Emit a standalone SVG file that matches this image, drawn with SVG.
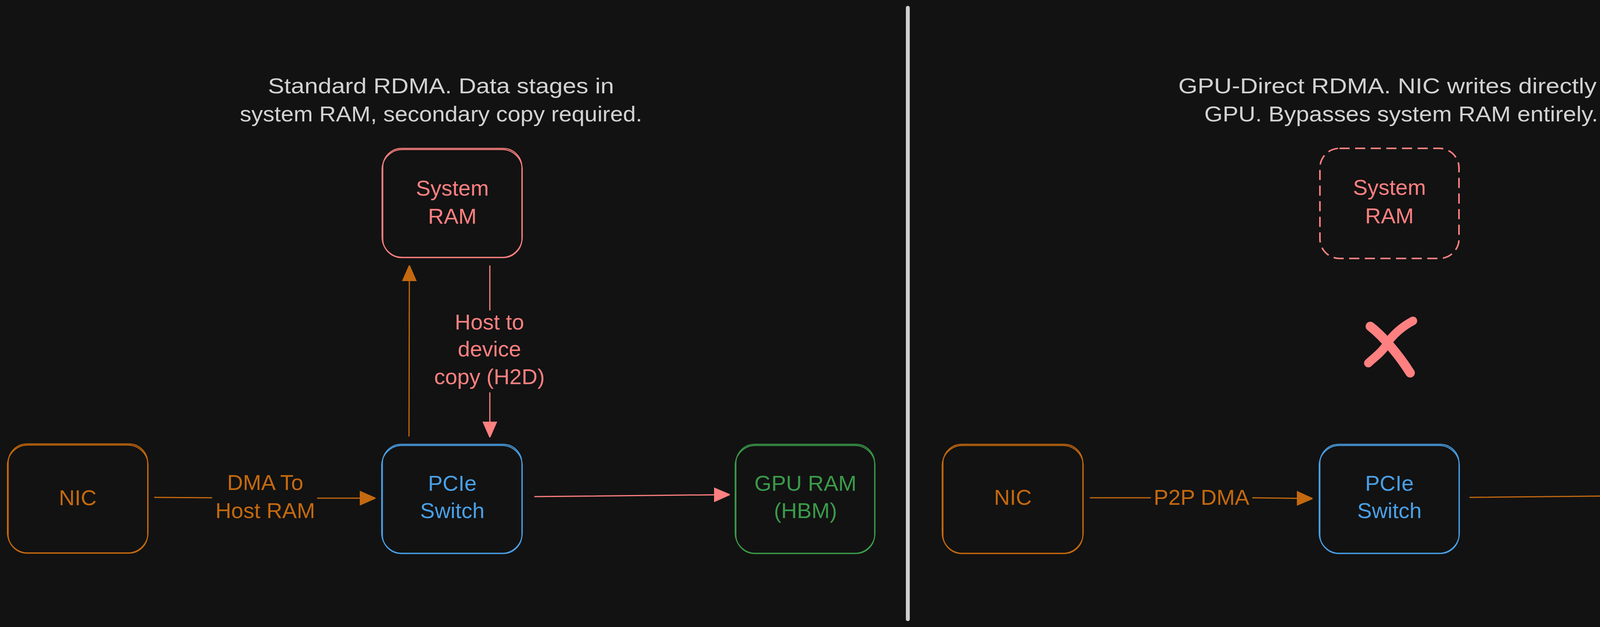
<svg xmlns="http://www.w3.org/2000/svg" width="4654" height="1606" viewBox="0 0 4654 1606">
<style>
  text { font-family: "Liberation Sans", "DejaVu Sans", sans-serif; font-size: 56px; text-anchor: middle; }
  .title { fill: #d2d2d2; }
  .t-red { fill: #ff8080; }
  .t-orange { fill: #c4690f; }
  .t-blue { fill: #4a9fe5; }
  .t-green { fill: #3a9a4a; }
  .box { fill: none; stroke-width: 2.5; }
  .b-red { stroke: #ff8080; }
  .b-orange { stroke: #c4690f; }
  .b-blue { stroke: #4a9fe5; }
  .b-green { stroke: #3a9a4a; }
  .dashed { fill: none; stroke: #ff8080; stroke-width: 4; stroke-dasharray: 26 14; }
  .edge { fill: none; stroke-width: 3; stroke-linecap: round; }
  .e-orange { stroke: #c4690f; }
  .e-red { stroke: #ff8080; }
</style>
<defs>
  <marker id="ah-orange" markerUnits="userSpaceOnUse" markerWidth="40" markerHeight="40" viewBox="0 0 32 28" refX="31" refY="14" orient="auto">
    <path d="M0,0 L32,14 L0,28 Z" fill="#c4690f" stroke="#c4690f" stroke-width="2" stroke-linejoin="round"/>
  </marker>
  <marker id="ah-red" markerUnits="userSpaceOnUse" markerWidth="40" markerHeight="40" viewBox="0 0 32 28" refX="31" refY="14" orient="auto">
    <path d="M0,0 L32,14 L0,28 Z" fill="#ff8080" stroke="#ff8080" stroke-width="2" stroke-linejoin="round"/>
  </marker>
</defs>
<rect x="0" y="0" width="4654" height="1606" fill="#121212"/>

<g id="divider">
  <line x1="2324" y1="20" x2="2324" y2="1586" stroke="#cfcfcf" stroke-width="10" stroke-linecap="round"/>
</g>

<g id="title-left">
  <text class="title" x="1129" y="239" textLength="886" lengthAdjust="spacingAndGlyphs">Standard RDMA. Data stages in</text>
  <text class="title" x="1129" y="311" textLength="1030" lengthAdjust="spacingAndGlyphs">system RAM, secondary copy required.</text>
</g>
<g id="title-right">
  <text class="title" x="3587" y="239" textLength="1141" lengthAdjust="spacingAndGlyphs">GPU-Direct RDMA. NIC writes directly to</text>
  <text class="title" x="3587" y="311" textLength="1008" lengthAdjust="spacingAndGlyphs">GPU. Bypasses system RAM entirely.</text>
</g>

<!-- Left panel nodes -->
<g id="sysram-left">
  <rect class="box b-red" x="980" y="380" width="356" height="280" rx="48"/>
  <rect class="box b-red" x="978" y="383" width="359" height="276" rx="52"/>
  <text class="t-red" x="1158" y="501">System</text>
  <text class="t-red" x="1158" y="573">RAM</text>
</g>
<g id="nic-left">
  <rect class="box b-orange" x="21" y="1137" width="357" height="280" rx="48"/>
  <rect class="box b-orange" x="19" y="1140" width="360" height="276" rx="52"/>
  <text class="t-orange" x="199" y="1294">NIC</text>
</g>
<g id="pcie-left">
  <rect class="box b-blue" x="979" y="1138" width="357" height="280" rx="48"/>
  <rect class="box b-blue" x="977" y="1141" width="360" height="276" rx="52"/>
  <text class="t-blue" x="1158" y="1257">PCIe</text>
  <text class="t-blue" x="1158" y="1327">Switch</text>
</g>
<g id="gpu-left">
  <rect class="box b-green" x="1884" y="1138" width="355" height="280" rx="48"/>
  <rect class="box b-green" x="1882" y="1141" width="358" height="276" rx="52"/>
  <text class="t-green" x="2062" y="1257">GPU RAM</text>
  <text class="t-green" x="2062" y="1327">(HBM)</text>
</g>

<!-- Right panel nodes -->
<g id="sysram-right">
  <rect class="dashed" x="3379" y="380" width="356" height="282" rx="50"/>
  <text class="t-red" x="3557" y="499">System</text>
  <text class="t-red" x="3557" y="572">RAM</text>
</g>
<g id="cross-mark">
  <path d="M3508,836 C3545,865 3585,915 3610,955" fill="none" stroke="#ff8080" stroke-width="24" stroke-linecap="round"/>
  <path d="M3617,822 C3590,836 3562,860 3548,885 C3535,905 3515,918 3503,930" fill="none" stroke="#ff8080" stroke-width="22" stroke-linecap="round"/>
</g>
<g id="nic-right">
  <rect class="box b-orange" x="2414" y="1138" width="358" height="280" rx="48"/>
  <rect class="box b-orange" x="2412" y="1141" width="361" height="276" rx="52"/>
  <text class="t-orange" x="2593" y="1293">NIC</text>
</g>
<g id="pcie-right">
  <rect class="box b-blue" x="3379" y="1138" width="356" height="280" rx="48"/>
  <rect class="box b-blue" x="3377" y="1141" width="359" height="276" rx="52"/>
  <text class="t-blue" x="3557" y="1257">PCIe</text>
  <text class="t-blue" x="3557" y="1327">Switch</text>
</g>
<g id="gpu-right">
  <rect class="box b-green" x="4276" y="1138" width="358" height="280" rx="48"/>
  <rect class="box b-green" x="4274" y="1141" width="361" height="276" rx="52"/>
  <text class="t-green" x="4455" y="1257">GPU RAM</text>
  <text class="t-green" x="4455" y="1327">(HBM)</text>
</g>

<g id="connectors">
  <!-- Left: NIC -> PCIe -->
  <path class="edge e-orange" d="M396,1274 L542,1275"/>
  <path class="edge e-orange" d="M813,1276 L960,1276" marker-end="url(#ah-orange)"/>
  <text class="t-orange" x="679" y="1255">DMA To</text>
  <text class="t-orange" x="679" y="1327">Host RAM</text>
  <!-- Left: PCIe -> System RAM -->
  <path class="edge e-orange" d="M1047,1117 L1048,681" stroke-width="2.5" marker-end="url(#ah-orange)"/>
  <!-- Left: System RAM -> PCIe -->
  <path class="edge e-red" d="M1254,681 L1254,794"/>
  <path class="edge e-red" d="M1254,1006 L1254,1119" marker-end="url(#ah-red)"/>
  <text class="t-red" x="1253" y="844">Host to</text>
  <text class="t-red" x="1253" y="913">device</text>
  <text class="t-red" x="1253" y="984">copy (H2D)</text>
  <!-- Left: PCIe -> GPU RAM -->
  <path class="edge e-red" d="M1369,1272 L1867,1267" marker-end="url(#ah-red)"/>
  <!-- Right: NIC -> PCIe -->
  <path class="edge e-orange" d="M2791,1275 L2945,1275"/>
  <path class="edge e-orange" d="M3207,1275 L3359,1277" marker-end="url(#ah-orange)"/>
  <text class="t-orange" x="3076" y="1293">P2P DMA</text>
  <!-- Right: PCIe -> GPU RAM -->
  <path class="edge e-orange" d="M3763,1274 L4257,1269" marker-end="url(#ah-orange)"/>
</g>
</svg>
